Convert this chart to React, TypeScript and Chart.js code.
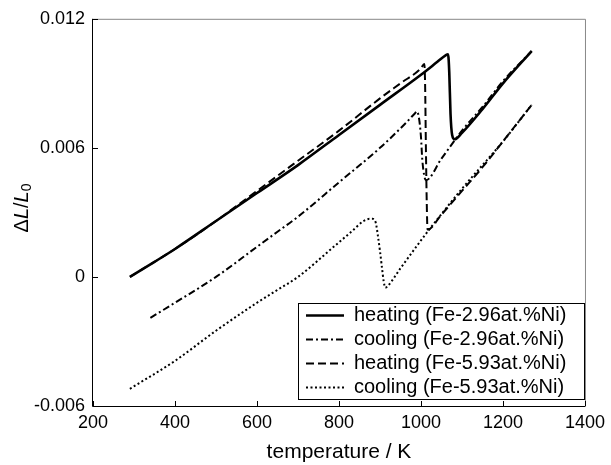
import { useEffect, useRef } from "react";
import { Chart, registerables } from "chart.js";
Chart.register(...registerables);

// heating (Fe-2.96at.%Ni)
const heatT1 = [290, 350, 400, 500, 600, 700, 800, 900, 1000, 1040, 1060, 1066, 1069, 1072, 1076, 1082, 1100, 1150, 1200, 1270];
const heatV1 = [0.0, 0.0007, 0.0013, 0.0026, 0.0039, 0.0052, 0.0066, 0.008, 0.0094, 0.01, 0.0103, 0.01035, 0.0095, 0.0076, 0.0066, 0.0064, 0.0067, 0.0078, 0.009, 0.0105];
// cooling (Fe-2.96at.%Ni)
const coolT1 = [340, 400, 500, 600, 650, 700, 800, 900, 960, 985, 990, 995, 1000, 1003, 1008, 1012, 1050, 1100, 1150, 1200, 1270];
const coolV1 = [-0.0019, -0.0012, 0.0, 0.0014, 0.0021, 0.0028, 0.0044, 0.006, 0.0071, 0.0076, 0.0077, 0.0074, 0.0065, 0.0055, 0.0047, 0.0045, 0.0055, 0.0068, 0.0079, 0.0091, 0.0105];
// heating (Fe-5.93at.%Ni)
const heatT2 = [290, 400, 500, 600, 700, 800, 900, 950, 1000, 1008, 1010, 1012, 1014, 1016, 1050, 1100, 1150, 1200, 1270];
const heatV2 = [0.0, 0.0013, 0.0026, 0.004, 0.0054, 0.0068, 0.0083, 0.009, 0.0097, 0.0099, 0.009, 0.006, 0.0035, 0.0022, 0.0029, 0.004, 0.0051, 0.0063, 0.008];
// cooling (Fe-5.93at.%Ni)
const coolT2 = [290, 400, 500, 600, 650, 700, 787, 830, 860, 875, 882, 890, 895, 900, 905, 909, 913, 920, 950, 1000, 1020, 1100, 1200, 1270];
const coolV2 = [-0.0052, -0.0039, -0.0025, -0.0012, -0.0006, 0.0, 0.0014, 0.0021, 0.0026, 0.0027, 0.0027, 0.0025, 0.0019, 0.0012, 0.0004, -0.0002, -0.0005, -0.0004, 0.0004, 0.0017, 0.0022, 0.0041, 0.0063, 0.008];

const seriesLabels = [
  "heating (Fe-2.96at.%Ni)",
  "cooling (Fe-2.96at.%Ni)",
  "heating (Fe-5.93at.%Ni)",
  "cooling (Fe-5.93at.%Ni)",
];
const xTicks = [200, 400, 600, 800, 1000, 1200, 1400];
const yTicks = [-0.006, 0, 0.006, 0.012];
const yTickLabels = ["-0.006", "0", "0.006", "0.012"];
const xTitle = "temperature / K";

const FONT = "'Liberation Sans', Arial, Helvetica, sans-serif";
const styles = [
  { width: 2.6, dash: [] as number[] },
  { width: 2, dash: [7, 3, 2, 3] },
  { width: 2, dash: [8, 4] },
  { width: 2, dash: [2, 2.5] },
];

const toPts = (t: number[], v: number[]) => t.map((x, i) => ({ x, y: v[i] }));

const decorPlugin = {
  id: "decor",
  afterDraw(chart: any) {
    const ctx = chart.ctx;
    const a = chart.chartArea;
    const xs = chart.scales.x;
    const ys = chart.scales.y;
    ctx.save();
    // box
    ctx.lineWidth = 1;
    ctx.strokeStyle = "#888";
    ctx.beginPath();
    ctx.moveTo(a.left, a.top + 0.5);
    ctx.lineTo(a.right + 0.5, a.top + 0.5);
    ctx.lineTo(a.right + 0.5, a.bottom);
    ctx.stroke();
    ctx.strokeStyle = "#000";
    ctx.beginPath();
    ctx.moveTo(a.left - 0.5, a.top);
    ctx.lineTo(a.left - 0.5, a.bottom + 0.5);
    ctx.lineTo(a.right + 0.5, a.bottom + 0.5);
    ctx.stroke();
    // inward ticks
    ctx.beginPath();
    xTicks.forEach((v) => {
      const px = Math.round(xs.getPixelForValue(v)) + 0.5;
      ctx.moveTo(px, a.bottom);
      ctx.lineTo(px, a.bottom - 5);
    });
    yTicks.forEach((v) => {
      const py = Math.round(ys.getPixelForValue(v)) + 0.5;
      ctx.moveTo(a.left, py);
      ctx.lineTo(a.left + 5, py);
    });
    ctx.stroke();

    // y title: ΔL/L0 rotated
    ctx.translate(22, 208);
    ctx.rotate(-Math.PI / 2);
    ctx.fillStyle = "#000";
    ctx.textBaseline = "middle";
    ctx.textAlign = "left";
    const parts = [
      { t: "\u0394", f: `20px ${FONT}`, dy: 0 },
      { t: "L", f: `italic 20px ${FONT}`, dy: 0 },
      { t: "/", f: `20px ${FONT}`, dy: 0 },
      { t: "L", f: `italic 20px ${FONT}`, dy: 0 },
      { t: "0", f: `14px ${FONT}`, dy: 5 },
    ];
    let total = 0;
    parts.forEach((p) => {
      ctx.font = p.f;
      total += ctx.measureText(p.t).width;
    });
    let cx = -total / 2;
    parts.forEach((p) => {
      ctx.font = p.f;
      ctx.fillText(p.t, cx, p.dy);
      cx += ctx.measureText(p.t).width;
    });
    ctx.restore();

    // legend
    ctx.save();
    const lx = 298, ly = 303, lw = 286, lh = 96;
    ctx.fillStyle = "#fff";
    ctx.fillRect(lx, ly, lw, lh);
    ctx.strokeStyle = "#000";
    ctx.lineWidth = 1;
    ctx.strokeRect(lx + 0.5, ly + 0.5, lw, lh);
    const rowH = lh / 4;
    seriesLabels.forEach((lab, i) => {
      const cy = ly + rowH * (i + 0.5) + 0.5;
      ctx.lineWidth = styles[i].width;
      ctx.setLineDash(styles[i].dash);
      ctx.beginPath();
      ctx.moveTo(lx + 8, cy);
      ctx.lineTo(lx + 46, cy);
      ctx.stroke();
      ctx.setLineDash([]);
      ctx.fillStyle = "#000";
      ctx.font = `20px ${FONT}`;
      ctx.textBaseline = "middle";
      ctx.textAlign = "left";
      ctx.fillText(lab, lx + 56, cy);
    });
    ctx.restore();
  },
};

export default function App() {
  const ref = useRef<HTMLCanvasElement | null>(null);
  useEffect(() => {
    if (!ref.current) return;
    const series = [toPts(heatT1, heatV1), toPts(coolT1, coolV1), toPts(heatT2, heatV2), toPts(coolT2, coolV2)];
    const chart = new Chart(ref.current, {
      type: "line",
      data: {
        datasets: series.map((d, i) => ({
          label: seriesLabels[i],
          data: d,
          borderColor: "#000",
          backgroundColor: "#000",
          borderWidth: styles[i].width,
          borderDash: styles[i].dash,
          pointRadius: 0,
          fill: false,
          cubicInterpolationMode: "monotone" as const,
        })),
      },
      options: {
        animation: false,
        responsive: false,
        layout: { padding: { left: 0, top: 15, right: 20, bottom: 0 } },
        plugins: { legend: { display: false }, tooltip: { enabled: false } },
        scales: {
          x: {
            type: "linear",
            min: 200,
            max: 1400,
            afterBuildTicks: (s: any) => {
              s.ticks = xTicks.map((v) => ({ value: v }));
            },
            afterFit: (s: any) => {
              s.height = 59;
            },
            grid: { display: false, drawTicks: false },
            border: { display: false },
            ticks: {
              color: "#000",
              font: { family: FONT, size: 18 },
              padding: 6,
              maxRotation: 0,
              autoSkip: false,
              callback: (v: any) => String(v),
            },
            title: {
              display: true,
              text: xTitle,
              color: "#000",
              font: { family: FONT, size: 21 },
              padding: { top: 6, bottom: 0 },
            },
          },
          y: {
            type: "linear",
            min: -0.006,
            max: 0.012,
            afterBuildTicks: (s: any) => {
              s.ticks = yTicks.map((v) => ({ value: v }));
            },
            afterFit: (s: any) => {
              s.width = 93;
            },
            grid: { display: false, drawTicks: false },
            border: { display: false },
            ticks: {
              color: "#000",
              font: { family: FONT, size: 18 },
              padding: 8,
              autoSkip: false,
              callback: (_v: any, i: number) => yTickLabels[i],
            },
          },
        },
      },
      plugins: [decorPlugin],
    });
    return () => chart.destroy();
  }, []);
  return (
    <div style={{ position: "fixed", left: 0, top: 0, width: 611, height: 465, background: "#fff" }}>
      <canvas ref={ref} width={611} height={465} style={{ width: 611, height: 465, display: "block" }} />
    </div>
  );
}
